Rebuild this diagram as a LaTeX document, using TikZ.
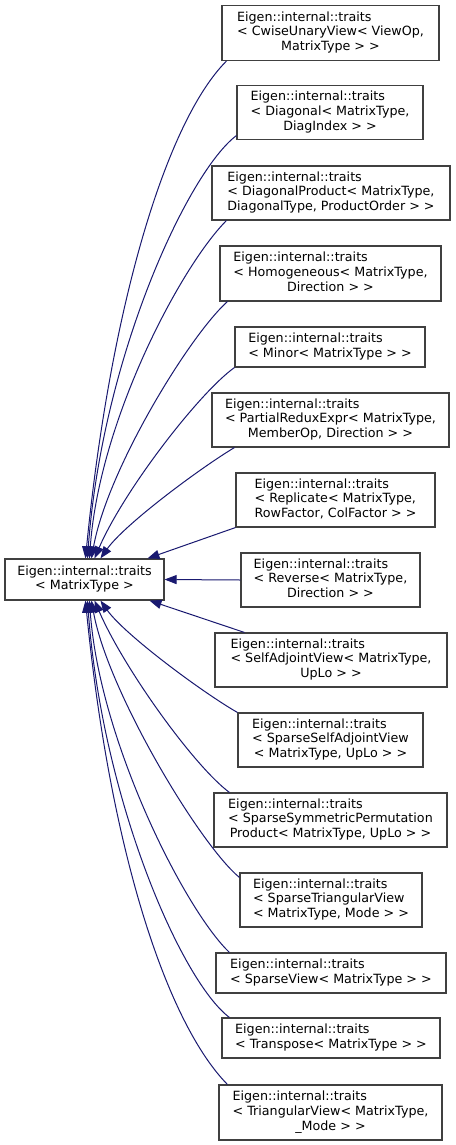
\documentclass[tikz,border=0pt]{standalone}
\usepackage{fontspec}
\newfontfamily\dvs{DejaVu Sans}
\usetikzlibrary{arrows.meta,calc}
\definecolor{edgeblue}{HTML}{191970}
\definecolor{boxline}{HTML}{404040}
\newcommand\threeL[3]{\begin{tabular}{@{}l@{}}#1\\#2\\\multicolumn{1}{@{}c@{}}{#3}\end{tabular}}
\newcommand\twoL[2]{\begin{tabular}{@{}l@{}}#1\\#2\end{tabular}}
\begin{document}
\begin{tikzpicture}[x=1pt,y=-1pt,
  cls/.style={draw=boxline, line width=1.1pt, fill=white, inner sep=0pt,
    font=\dvs\fontsize{12.7}{14.7}\selectfont, text=black},
  edge/.style={draw=edgeblue, line width=1pt, -{Triangle[length=12pt,width=9pt]}},
]
\useasboundingbox (0,0) rectangle (455,1145);
\fill[white] (0,0) rectangle (455,1145);

\node[cls, minimum width=159pt, minimum height=41pt] (base) at (84.5,579.5)
  {\begin{tabular}{@{}c@{}}Eigen::internal::traits\\< MatrixType >\end{tabular}};

\node[cls, minimum width=217pt, minimum height=55pt] (c1) at (330.5,33)
  {\threeL{Eigen::internal::traits}{< CwiseUnaryView< ViewOp,}{MatrixType > >}};
\node[cls, minimum width=186pt, minimum height=54pt] (c2) at (330,112.5)
  {\threeL{Eigen::internal::traits}{< Diagonal< MatrixType,}{DiagIndex > >}};
\node[cls, minimum width=238pt, minimum height=54pt] (c3) at (331,193)
  {\threeL{Eigen::internal::traits}{< DiagonalProduct< MatrixType,}{DiagonalType, ProductOrder > >}};
\node[cls, minimum width=221pt, minimum height=55pt] (c4) at (330.5,273.5)
  {\threeL{Eigen::internal::traits}{< Homogeneous< MatrixType,}{Direction > >}};
\node[cls, minimum width=190pt, minimum height=40pt] (c5) at (330,347)
  {\twoL{Eigen::internal::traits}{< Minor< MatrixType > >}};
\node[cls, minimum width=237pt, minimum height=54pt] (c6) at (330.5,420)
  {\threeL{Eigen::internal::traits}{< PartialReduxExpr< MatrixType,}{MemberOp, Direction > >}};
\node[cls, minimum width=199pt, minimum height=54pt] (c7) at (335.5,500)
  {\threeL{Eigen::internal::traits}{< Replicate< MatrixType,}{RowFactor, ColFactor > >}};
\node[cls, minimum width=179pt, minimum height=54pt] (c8) at (330.5,580)
  {\threeL{Eigen::internal::traits}{< Reverse< MatrixType,}{Direction > >}};
\node[cls, minimum width=232pt, minimum height=54pt] (c9) at (331,660)
  {\threeL{Eigen::internal::traits}{< SelfAdjointView< MatrixType,}{UpLo > >}};
\node[cls, minimum width=185pt, minimum height=54pt] (c10) at (330.5,740)
  {\threeL{Eigen::internal::traits}{< SparseSelfAdjointView}{< MatrixType, UpLo > >}};
\node[cls, minimum width=233pt, minimum height=54pt] (c11) at (330.5,820)
  {\threeL{Eigen::internal::traits}{< SparseSymmetricPermutation}{Product< MatrixType, UpLo > >}};
\node[cls, minimum width=182pt, minimum height=54pt] (c12) at (331,900)
  {\threeL{Eigen::internal::traits}{< SparseTriangularView}{< MatrixType, Mode > >}};
\node[cls, minimum width=230pt, minimum height=40pt] (c13) at (331,973)
  {\twoL{Eigen::internal::traits}{< SparseView< MatrixType > >}};
\node[cls, minimum width=218pt, minimum height=40pt] (c14) at (331,1038)
  {\twoL{Eigen::internal::traits}{< Transpose< MatrixType > >}};
\node[cls, minimum width=223pt, minimum height=55pt] (c15) at (330.5,1112.5)
  {\threeL{Eigen::internal::traits}{< TriangularView< MatrixType,}{\_Mode > >}};

% upper edges
\draw[edge] ($(c1.south west)+(5,0)$) .. controls +(-60,60) and +(25,-253) .. ($(base.north west)+(81,0)$);
\draw[edge] ($(c2.south west)+(0,-4.5)$) .. controls +(-48,36) and +(15,-203) .. ($(base.north west)+(83,0)$);
\draw[edge] ($(c3.south west)+(15,0)$) .. controls +(-45,45) and +(10,-139) .. ($(base.north west)+(85,0)$);
\draw[edge] ($(c4.south west)+(8,0)$) .. controls +(-38,34) and +(16,-89) .. ($(base.north west)+(87,0)$);
\draw[edge] (c5.south west) .. controls +(-35,25) and +(30,-69) .. ($(base.north west)+(90,0)$);
\draw[edge] ($(c6.south west)+(23,0)$) .. controls +(-35,21) and +(24,-34) .. ($(base.north west)+(96,0)$);
\draw[edge] (c7.south west) -- ($(base.north west)+(143,0)$);
\draw[edge] (c8.west) -- (base.east);
% lower edges
\draw[edge] ($(c9.north west)+(30,0)$) -- ($(base.south west)+(145,0)$);
\draw[edge] (c10.north west) .. controls +(-35,-20) and +(24,34) .. ($(base.south west)+(96,0)$);
\draw[edge] ($(c11.north west)+(16,0)$) .. controls +(-35,-26) and +(30,69) .. ($(base.south west)+(90,0)$);
\draw[edge] ($(c12.north west)+(0,5)$) .. controls +(-40,-33) and +(16,90) .. ($(base.south west)+(87,0)$);
\draw[edge] ($(c13.north west)+(14,0)$) .. controls +(-45,-43) and +(10,140) .. ($(base.south west)+(85,0)$);
\draw[edge] ($(c14.north west)+(8,0)$) .. controls +(-48,-36) and +(15,200) .. ($(base.south west)+(83,0)$);
\draw[edge] ($(c15.north west)+(9,0)$) .. controls +(-60,-61) and +(25,253) .. ($(base.south west)+(81,0)$);
\end{tikzpicture}
\end{document}
